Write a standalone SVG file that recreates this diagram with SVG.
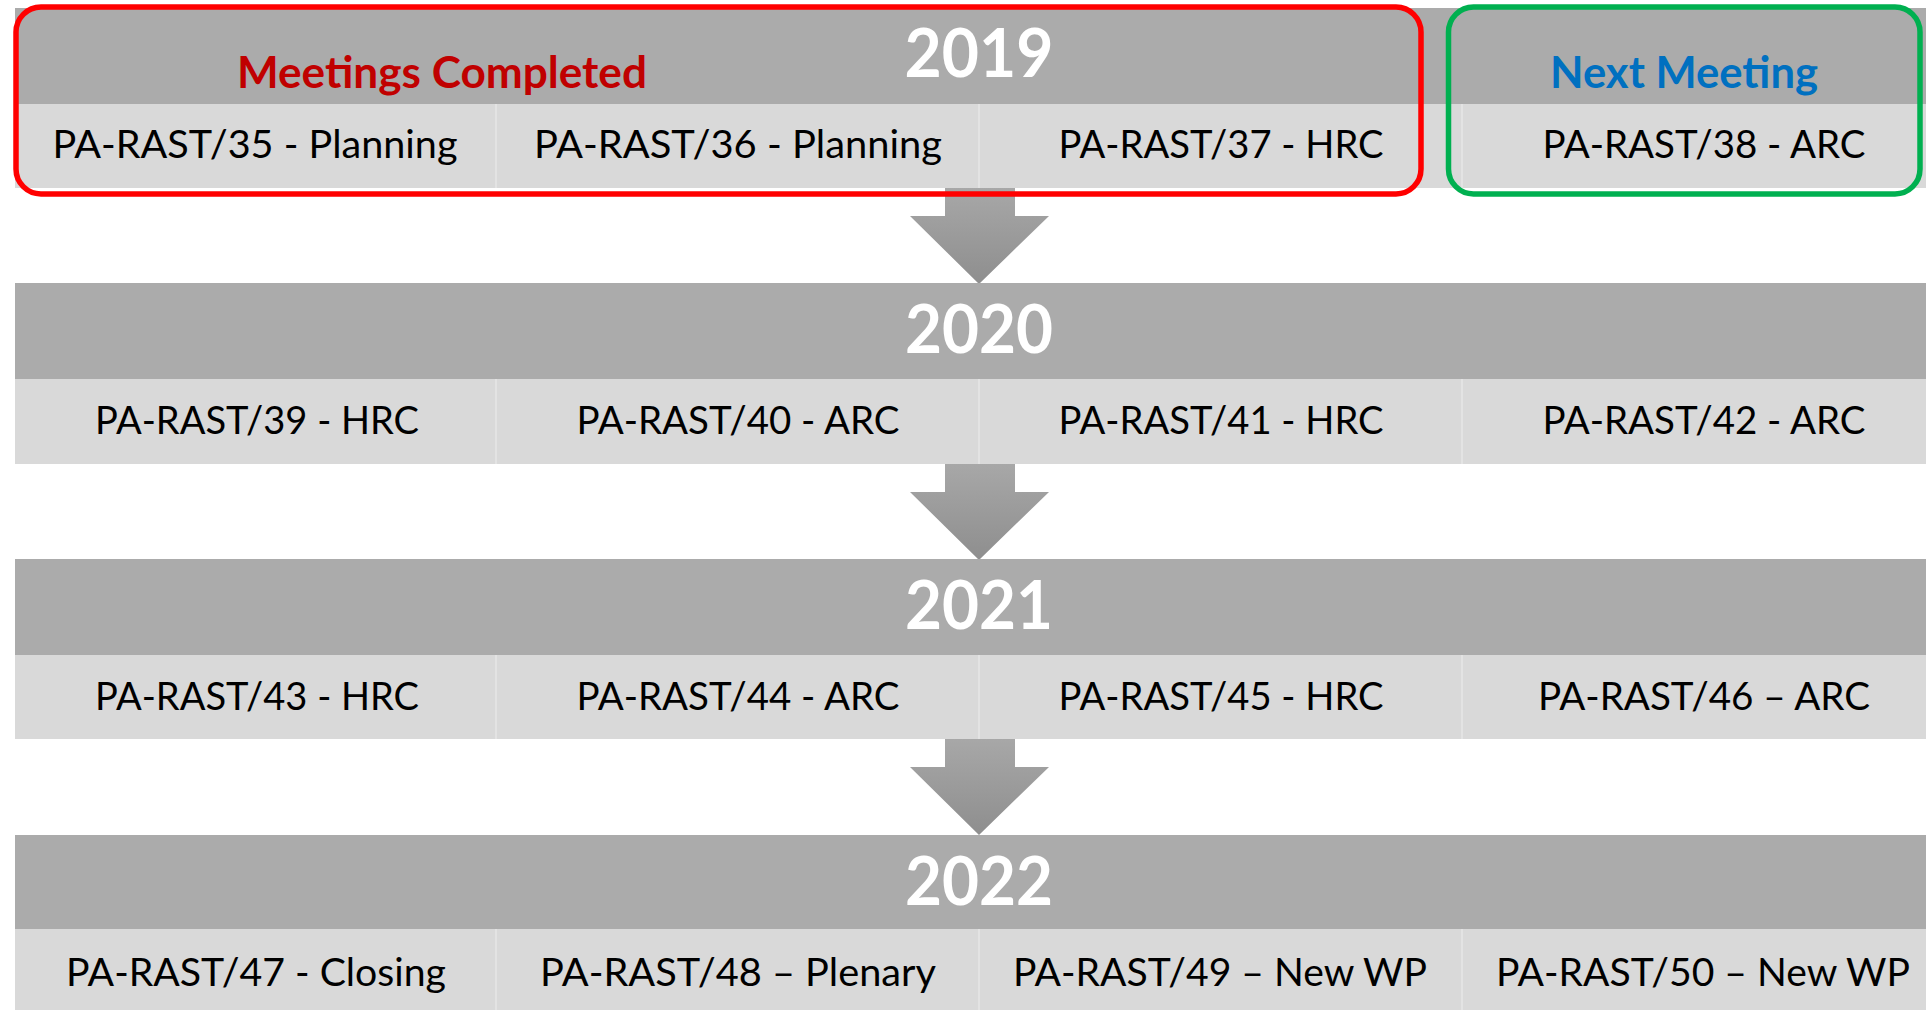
<svg xmlns="http://www.w3.org/2000/svg" width="1926" height="1010" viewBox="0 0 1926 1010">
<defs>
<linearGradient id="arrowGrad" x1="0" y1="0" x2="0" y2="1">
<stop offset="0" stop-color="#a8a8a8"/>
<stop offset="1" stop-color="#8e8e8e"/>
</linearGradient>
<style>
.hdr{fill:#ababab}
.row{fill:#d9d9d9}
.div{stroke:#e6e6e6;stroke-width:1.5}
.year{font-family:Lato,"Open Sans","Liberation Sans",sans-serif;font-weight:bold;font-size:67px;fill:#ffffff;text-anchor:middle}
.cell{font-family:Lato,"Open Sans","Liberation Sans",sans-serif;font-size:39px;fill:#000000;text-anchor:middle}
.lbl{font-family:Lato,"Open Sans","Liberation Sans",sans-serif;font-weight:bold;font-size:43px;text-anchor:middle}
.arrow{fill:url(#arrowGrad)}
</style>
</defs>
<rect width="1926" height="1010" fill="#ffffff"/>

<g id="connectors">
<path class="arrow" d="M945,186 H1015 V216 H1049 L979,284 L910,216 H945 Z"/>
<path class="arrow" d="M945,462 H1015 V492 H1049 L979,560 L910,492 H945 Z"/>
<path class="arrow" d="M945,737 H1015 V767 H1049 L979,835 L910,767 H945 Z"/>
</g>

<g id="band-2019">
<rect class="hdr" x="15" y="8" width="1911" height="96"/>
<rect class="row" x="15" y="104" width="1911" height="84"/>
<line class="div" x1="496" y1="104" x2="496" y2="188"/>
<line class="div" x1="979" y1="104" x2="979" y2="188"/>
<line class="div" x1="1462" y1="104" x2="1462" y2="188"/>
<text class="year" x="979" y="77" textLength="149" lengthAdjust="spacingAndGlyphs">2019</text>
<g id="m35"><text class="cell" x="255" y="158" textLength="405" lengthAdjust="spacingAndGlyphs">PA-RAST/35 - Planning</text></g>
<g id="m36"><text class="cell" x="738" y="158" textLength="408" lengthAdjust="spacingAndGlyphs">PA-RAST/36 - Planning</text></g>
<g id="m37"><text class="cell" x="1221" y="158" textLength="325" lengthAdjust="spacingAndGlyphs">PA-RAST/37 - HRC</text></g>
<g id="m38"><text class="cell" x="1704" y="158" textLength="323" lengthAdjust="spacingAndGlyphs">PA-RAST/38 - ARC</text></g>
</g>

<g id="band-2020">
<rect class="hdr" x="15" y="283" width="1911" height="96"/>
<rect class="row" x="15" y="379" width="1911" height="85"/>
<line class="div" x1="496" y1="379" x2="496" y2="464"/>
<line class="div" x1="979" y1="379" x2="979" y2="464"/>
<line class="div" x1="1462" y1="379" x2="1462" y2="464"/>
<text class="year" x="979" y="353" textLength="148" lengthAdjust="spacingAndGlyphs">2020</text>
<g id="m39"><text class="cell" x="257" y="434" textLength="324" lengthAdjust="spacingAndGlyphs">PA-RAST/39 - HRC</text></g>
<g id="m40"><text class="cell" x="738" y="434" textLength="323" lengthAdjust="spacingAndGlyphs">PA-RAST/40 - ARC</text></g>
<g id="m41"><text class="cell" x="1221" y="434" textLength="325" lengthAdjust="spacingAndGlyphs">PA-RAST/41 - HRC</text></g>
<g id="m42"><text class="cell" x="1704" y="434" textLength="323" lengthAdjust="spacingAndGlyphs">PA-RAST/42 - ARC</text></g>
</g>

<g id="band-2021">
<rect class="hdr" x="15" y="559" width="1911" height="96"/>
<rect class="row" x="15" y="655" width="1911" height="84"/>
<line class="div" x1="496" y1="655" x2="496" y2="739"/>
<line class="div" x1="979" y1="655" x2="979" y2="739"/>
<line class="div" x1="1462" y1="655" x2="1462" y2="739"/>
<text class="year" x="979" y="629" textLength="148" lengthAdjust="spacingAndGlyphs">2021</text>
<g id="m43"><text class="cell" x="257" y="710" textLength="324" lengthAdjust="spacingAndGlyphs">PA-RAST/43 - HRC</text></g>
<g id="m44"><text class="cell" x="738" y="710" textLength="323" lengthAdjust="spacingAndGlyphs">PA-RAST/44 - ARC</text></g>
<g id="m45"><text class="cell" x="1221" y="710" textLength="325" lengthAdjust="spacingAndGlyphs">PA-RAST/45 - HRC</text></g>
<g id="m46"><text class="cell" x="1704" y="710" textLength="332" lengthAdjust="spacingAndGlyphs">PA-RAST/46 – ARC</text></g>
</g>

<g id="band-2022">
<rect class="hdr" x="15" y="835" width="1911" height="94"/>
<rect class="row" x="15" y="929" width="1911" height="81"/>
<line class="div" x1="496" y1="929" x2="496" y2="1010"/>
<line class="div" x1="979" y1="929" x2="979" y2="1010"/>
<line class="div" x1="1462" y1="929" x2="1462" y2="1010"/>
<text class="year" x="979" y="905" textLength="148" lengthAdjust="spacingAndGlyphs">2022</text>
<g id="m47"><text class="cell" x="256" y="986" textLength="380" lengthAdjust="spacingAndGlyphs">PA-RAST/47 - Closing</text></g>
<g id="m48"><text class="cell" x="738" y="986" textLength="396" lengthAdjust="spacingAndGlyphs">PA-RAST/48 – Plenary</text></g>
<g id="m49"><text class="cell" x="1220" y="986" textLength="414" lengthAdjust="spacingAndGlyphs">PA-RAST/49 – New WP</text></g>
<g id="m50"><text class="cell" x="1703" y="986" textLength="414" lengthAdjust="spacingAndGlyphs">PA-RAST/50 – New WP</text></g>
</g>

<g id="completed-group">
<rect x="16" y="7" width="1405" height="187" rx="25" ry="25" fill="none" stroke="#ff0000" stroke-width="5.5"/>
<text class="lbl" x="442" y="88" fill="#c00000" textLength="410" lengthAdjust="spacingAndGlyphs">Meetings Completed</text>
</g>

<g id="next-group">
<rect x="1448.5" y="7" width="471.5" height="187" rx="25" ry="25" fill="none" stroke="#00b050" stroke-width="5.5"/>
<text class="lbl" x="1684" y="88" fill="#0070c0" textLength="268" lengthAdjust="spacingAndGlyphs">Next Meeting</text>
</g>
</svg>
